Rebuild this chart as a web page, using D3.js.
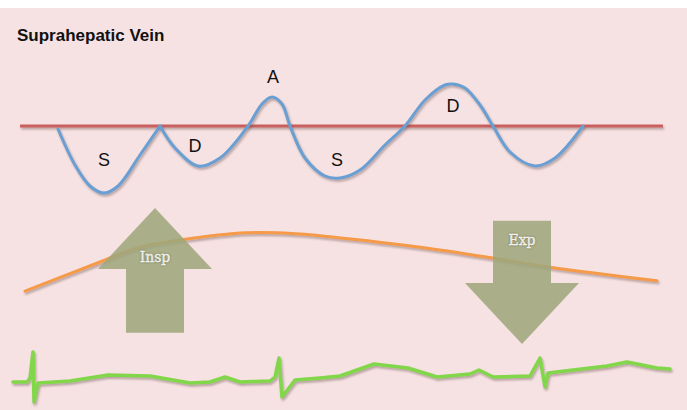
<!DOCTYPE html>
<html><head><meta charset="utf-8">
<script src="https://cdn.jsdelivr.net/npm/d3@7"></script>
<style>html,body{margin:0;padding:0;background:#fff;}svg{display:block;}</style>
</head><body>
<svg id="c" width="687" height="410"></svg>
<script>
// ---- data ----
const title = "Suprahepatic Vein";
// hepatic vein Doppler waveform: time (ms-like units) and velocity
const veinT = [45,62,77,91,105,127,147,162,185,207,235,249,259,269,277,292,312,327,347,372,392,412,432,440,452,467,480,497,522,542,570];
const veinV = [-1.5,-19.5,-30,-33.5,-30,-14.5,0,-11,-20,-16,0,11,14.5,11,0,-16,-25,-26,-22,-9.5,0,13,20.5,21,19,10.5,0,-13,-20,-16,0];
const cuspIndex = 6;
const baselineT = [7, 650];
const waveLabels = ["S","D","A","S","D"];
const waveLabelT = [91,182,260,324,440];
const waveLabelV = [-20,-13,21.5,-20,7];
// respiration curve
const respT = [12,87,127,167,234,287,317,407,480,537,644];
const respV = [11,47.5,66,75,84,82.5,79,66,52.5,41,24];
// respiration arrows
const arrowLabels = ["Insp","Exp"];
const arrowT = [142,509];
const arrowFrom = [-41,99];
const arrowTo = [115,-55];
// ECG trace
const ecgT = [0,14,17,20,21,25,57,95,137,177,197,212,227,257,262,266,269,282,307,327,361,395,424,457,466,480,517,527,532,535,577,594,614,644,657];
const ecgV = [-2,-2,2,28,-22,-3,-1,5,4,-3,-2,3,-2,-1,3,22,-17,0,2,4,16,12,3,6,10,3,4,22,-7,7,12,14,18,12,11];

// ---- drawing ----
const W = 687, H = 410;
const svg = d3.select("#c");
const x = d3.scaleLinear().domain([0,660]).range([13,673]);
const yVein = d3.scaleLinear().domain([-40,30]).range([206,66]);
const yResp = d3.scaleLinear().domain([0,100]).range([300,220]);
const yEcg = d3.scaleLinear().domain([-30,30]).range([410,350]);

const defs = svg.append("defs");
const f = defs.append("filter").attr("id","sh").attr("filterUnits","userSpaceOnUse")
  .attr("x",0).attr("y",0).attr("width",W).attr("height",H);
f.append("feDropShadow").attr("dx",1.2).attr("dy",2).attr("stdDeviation",1.1)
 .attr("flood-color","#6a5050").attr("flood-opacity",0.45);

svg.append("rect").attr("width",W).attr("height",H).attr("fill","#ffffff");
svg.append("rect").attr("x",0).attr("y",8).attr("width",W).attr("height",H-8).attr("fill","#f6e2e2");

svg.append("text").attr("x",17).attr("y",41).text(title)
  .attr("font-family","Liberation Sans, Arial, sans-serif").attr("font-weight","bold")
  .attr("font-size",17).attr("fill","#111");

// baseline
const lineLin = d3.line().x(d=>x(d[0])).y(d=>d[1]);
svg.append("path").attr("d", lineLin(baselineT.map(t=>[t,yVein(0)])))
  .attr("stroke","#c9605d").attr("stroke-width",3).attr("fill","none").attr("filter","url(#sh)");

// vein waveform (split at cusp for sharp corner)
const vein = veinT.map((t,i)=>[t,veinV[i]]);
const veinLine = d3.line().x(d=>x(d[0])).y(d=>yVein(d[1])).curve(d3.curveCatmullRom.alpha(0.5));
[vein.slice(0,cuspIndex+1), vein.slice(cuspIndex)].forEach(seg=>{
  svg.append("path").attr("d",veinLine(seg)).attr("fill","none")
    .attr("stroke","#6a9fd3").attr("stroke-width",3).attr("stroke-linejoin","round").attr("stroke-linecap","round")
    .attr("filter","url(#sh)");
});
svg.selectAll("text.wl").data(waveLabels).enter().append("text").attr("class","wl")
  .attr("x",(d,i)=>x(waveLabelT[i])).attr("y",(d,i)=>yVein(waveLabelV[i]))
  .attr("text-anchor","middle").attr("font-family","Liberation Sans, Arial, sans-serif")
  .attr("font-size",18).attr("fill","#111").text(d=>d);

// respiration curve
const respLine = d3.line().x((d,i)=>x(respT[i])).y(d=>yResp(d)).curve(d3.curveCatmullRom.alpha(0.5));
svg.append("path").attr("d",respLine(respV)).attr("fill","none")
  .attr("stroke","#f59a48").attr("stroke-width",3).attr("stroke-linecap","round").attr("filter","url(#sh)");

// arrows
const headLen = 61, headHalf = 57, shaftHalf = 29;
arrowLabels.forEach((lab,i)=>{
  const cx = x(arrowT[i]);
  const y0 = yResp(arrowFrom[i]), y1 = yResp(arrowTo[i]);
  const dir = y1 < y0 ? -1 : 1;
  const hb = y1 - dir*headLen;
  const pts = [[cx-shaftHalf,y0],[cx-shaftHalf,hb],[cx-headHalf,hb],[cx,y1],[cx+headHalf,hb],[cx+shaftHalf,hb],[cx+shaftHalf,y0]];
  svg.append("path").attr("d","M"+pts.map(p=>p.join(",")).join("L")+"Z")
    .attr("fill","#9da77c").attr("fill-opacity",0.86);
  const ty = dir<0 ? hb - 7 : y0 + 24;
  svg.append("text").attr("x",cx).attr("y",ty).attr("text-anchor","middle")
    .attr("font-family","DejaVu Serif, serif").attr("font-size",14).attr("fill","#ffffff")
    .attr("stroke","#ffffff").attr("stroke-width",0.35)
    .style("text-shadow","0 0 2px rgba(80,80,50,0.6)").text(lab);
});

// ECG
const ecgLine = d3.line().x((d,i)=>x(ecgT[i])).y(d=>yEcg(d));
svg.append("path").attr("d",ecgLine(ecgV)).attr("fill","none")
  .attr("stroke","#82d64a").attr("stroke-width",3.5).attr("stroke-linejoin","round").attr("stroke-linecap","round")
  .attr("filter","url(#sh)");
</script>
</body></html>
